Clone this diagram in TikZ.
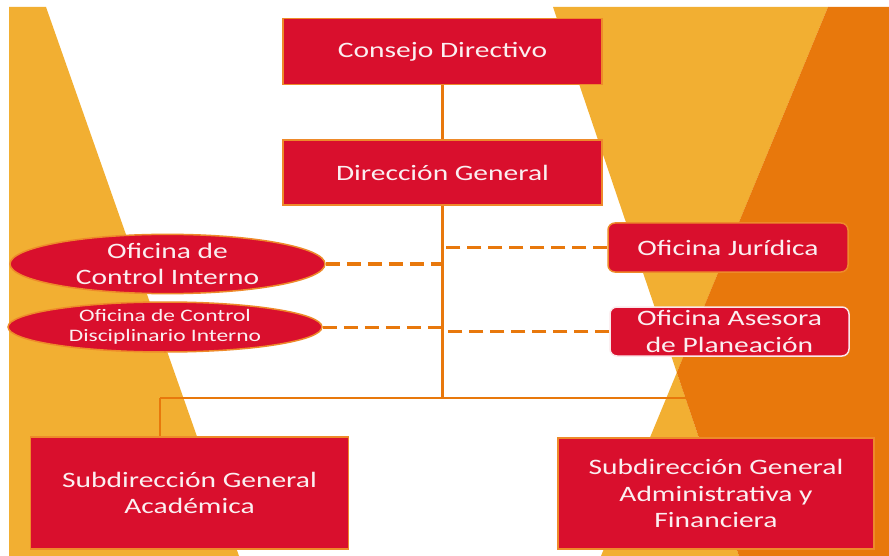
\documentclass[tikz,border=0pt]{standalone}
\usepackage{fontspec}
\setmainfont{Carlito}[FakeStretch=1.34]
\usetikzlibrary{shapes.geometric}
\definecolor{redbox}{HTML}{D90F2D}
\definecolor{yel}{HTML}{F2AF32}
\definecolor{org}{HTML}{E8780C}
\definecolor{bord}{HTML}{EE8A2A}
\definecolor{txt}{HTML}{FBEFF1}
\begin{document}
\begin{tikzpicture}[x=1pt,y=-1pt,
  box/.style={draw=bord, line width=1.5pt, fill=redbox, text=txt, align=center,
    inner sep=0pt, font=\fontsize{22}{26.5}\selectfont},
  oval/.style={box, ellipse},
  trunkline/.style={draw=org, line width=2.8pt},
  dashline/.style={draw=org, line width=3pt, dash pattern=on 14pt off 7pt}]
\useasboundingbox (0,0) rectangle (889,556);
\fill[white] (0,0) rectangle (889,556);
% background shapes
\fill[yel] (9,7) -- (46,7) -- (239,556) -- (9,556) -- cycle;
\fill[yel] (553,7) -- (828,7) -- (601,556) -- (739,556) -- cycle;
\fill[org] (828,7) -- (889,7) -- (889,556) -- (739,556) -- (676.8,372.5) -- cycle;
% junction coordinates
\coordinate (j) at (442.5,398);
\coordinate (hl) at (160,398);
\coordinate (hr) at (728,398);
% nodes
\node[box, minimum width=319pt, minimum height=66pt] (cd) at (442.5,51.5) {Consejo Directivo};
\node[box, minimum width=319pt, minimum height=65pt] (dg) at (442.5,172.5) {Dirección General};
\node[box, rounded corners=7pt, minimum width=240pt, minimum height=49pt] (oj) at (728,247.5) {Oficina Jurídica};
\node[box, draw=white!90!redbox, rounded corners=7pt, minimum width=239pt, minimum height=49pt] (oa) at (729.5,331.5) {Oficina Asesora\\de Planeación};
\node[oval, minimum width=315pt, minimum height=52pt] (oci) at (167.5,264) {Oficina de\\Control Interno};
\node[oval, minimum width=314pt, minimum height=50pt, font=\fontsize{17.5}{20}\selectfont] (ocd) at (165,327) {Oficina de Control\\Disciplinario Interno};
\node[box, minimum width=318pt, minimum height=112pt] (sga) at (189.5,493) {Subdirección General\\Académica};
\node[box, minimum width=316pt, minimum height=111pt] (sgf) at (716,493.5) {Subdirección General\\Administrativa y\\Financiera};
% connectors
\draw[trunkline] (cd.south) -- (dg.north);
\draw[trunkline] (dg.south) -- (j);
\draw[trunkline, line width=2.4pt] (hl) -- (hr);
\draw[trunkline, line width=2.4pt] (hl) -- (hl |- sga.north);
\draw[trunkline, line width=2.4pt] (hr) -- (hr |- sgf.north);
\draw[dashline] (oci.east) -- (oci.east -| j);
\draw[dashline] (ocd.east) -- (ocd.east -| j);
\draw[dashline] (oj.west) -- (oj.west -| j);
\draw[dashline] (oa.west) -- (oa.west -| j);
\end{tikzpicture}
\end{document}
